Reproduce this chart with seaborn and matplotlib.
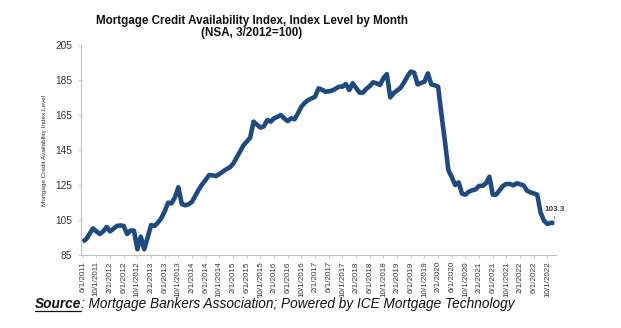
import matplotlib
matplotlib.use("Agg")
import matplotlib.pyplot as plt
import seaborn as sns
import pandas as pd
import numpy as np
from matplotlib.lines import Line2D

# ---- data (monthly, Jun 2011 - Dec 2022) ----
start_month = "2011-06-01"
mcai_2011 = [92.6, 94.0, 97.0, 100.2, 98.5, 97.0, 98.5]
mcai_2012 = [101.0, 98.5, 100.0, 101.6, 101.9, 101.6, 97.0, 99.0, 98.9, 88.3, 95.5, 88.3]
mcai_2013 = [95.0, 102.1, 101.6, 103.5, 106.0, 110.0, 114.9, 114.5, 118.0, 123.7, 114.1, 113.4]
mcai_2014 = [114.0, 115.5, 119.0, 122.5, 125.5, 128.0, 130.7, 130.5, 130.1, 131.3, 132.6, 134.0]
mcai_2015 = [135.0, 137.0, 140.5, 144.0, 147.5, 149.8, 152.0, 161.2, 159.5, 157.8, 158.5, 162.1]
mcai_2016 = [161.2, 163.1, 164.0, 165.0, 163.0, 161.5, 163.1, 162.6, 166.0, 169.8, 172.0, 173.6]
mcai_2017 = [174.5, 175.5, 180.2, 179.5, 178.3, 178.5, 179.0, 180.0, 181.2, 181.2, 182.7, 179.3]
mcai_2018 = [183.1, 180.5, 177.8, 177.8, 180.0, 181.5, 183.7, 183.1, 182.2, 186.0, 188.4, 175.1]
mcai_2019 = [177.5, 179.0, 180.5, 183.5, 187.0, 189.8, 189.2, 182.5, 183.3, 184.0, 188.8, 182.5]
mcai_2020 = [182.0, 181.2, 165.0, 150.0, 133.5, 129.5, 125.0, 126.5, 120.0, 119.5, 121.2, 122.0]
mcai_2021 = [122.5, 124.5, 124.5, 126.0, 129.7, 119.5, 119.5, 122.0, 124.5, 125.6, 125.6, 124.8]
mcai_2022 = [126.0, 125.4, 124.8, 121.8, 120.8, 120.2, 119.5, 109.2, 104.5, 102.8, 103.4, 103.3]

values = (mcai_2011 + mcai_2012 + mcai_2013 + mcai_2014 + mcai_2015 + mcai_2016
          + mcai_2017 + mcai_2018 + mcai_2019 + mcai_2020 + mcai_2021 + mcai_2022)
dates = pd.date_range(start_month, periods=len(values), freq="MS")
df = pd.DataFrame({"pos": np.arange(len(values)), "mcai": values})

y_ticks = [85, 105, 125, 145, 165, 185, 205]
tick_every = 4
title_text = "Mortgage Credit Availability Index, Index Level by Month\n(NSA, 3/2012=100)"
ylabel_text = "Mortgage Credit Availability Index Level"
source_bold = "Source"
source_rest = ": Mortgage Bankers Association; Powered by ICE Mortgage Technology"

# ---- style ----
sns.set_theme(style="white")
plt.rcParams["font.family"] = ["Liberation Sans", "DejaVu Sans"]

fig = plt.figure(figsize=(6.21, 3.28), dpi=100)
ax = fig.add_axes([81 / 621, 1 - 255 / 328, (556 - 81) / 621, (255 - 45) / 328])

line_color = "#1F4A7F"
sns.lineplot(data=df, x="pos", y="mcai", ax=ax, color=line_color, linewidth=3.3,
             solid_capstyle="butt", solid_joinstyle="round")

ax.set_xlim(-0.5, len(values) - 0.5)
ax.set_ylim(85, 205)
ax.set_yticks(y_ticks)
ax.set_yticklabels([str(v) for v in y_ticks], fontsize=7.3, color="#333333")

xt = list(range(0, len(values), tick_every))
ax.set_xticks(xt)
ax.set_xticklabels([f"{dates[i].month}/1/{dates[i].year}" for i in xt],
                   rotation=90, fontsize=5.8, color="#333333",
                   family=["Liberation Sans Narrow", "Liberation Sans", "DejaVu Sans"])

ax.set_xlabel("")
ax.set_ylabel(ylabel_text, fontsize=4.6, color="#333333",
              family=["Liberation Sans Narrow", "Liberation Sans", "DejaVu Sans"], labelpad=6)

for s in ["top", "right"]:
    ax.spines[s].set_visible(False)
for s in ["left", "bottom"]:
    ax.spines[s].set_color("#BFBFBF")
    ax.spines[s].set_linewidth(0.8)
ax.tick_params(axis="both", which="major", direction="out", length=2.5, width=0.6,
               color="#BFBFBF", left=True, bottom=True, pad=2)
ax.tick_params(axis="y", pad=4)
ax.grid(False)

# last value label
last_i = len(values) - 1
ax.annotate(f"{values[-1]:.1f}", xy=(last_i, values[-1]), xytext=(0, 7),
            textcoords="offset points", ha="center", va="bottom",
            fontsize=5.8, fontweight="bold", color="#404040",
            arrowprops=dict(arrowstyle="-", color="#404040", lw=0.5, shrinkA=0, shrinkB=3))

# title
fig.text(252 / 621, 1 - 27 / 328, title_text, ha="center", va="center",
         fontsize=8.4, fontweight="bold", color="#111111", linespacing=1.1)

# source line
fig.canvas.draw()
r = fig.canvas.get_renderer()
sy = 1 - 304 / 328
t1 = fig.text(35 / 621, sy, source_bold, ha="left", va="center", fontsize=9.8,
              fontweight="bold", style="italic", color="#111111")
bb = t1.get_window_extent(renderer=r)
t2 = fig.text(bb.x1 / 621, sy, source_rest, ha="left", va="center", fontsize=9.8,
              style="italic", color="#111111")
uy = (bb.y0 + 0.3) / 328
fig.add_artist(Line2D([bb.x0 / 621, bb.x1 / 621], [uy, uy], transform=fig.transFigure,
                      color="#111111", linewidth=0.9))

fig.savefig("out.png", dpi=100, facecolor="white")
